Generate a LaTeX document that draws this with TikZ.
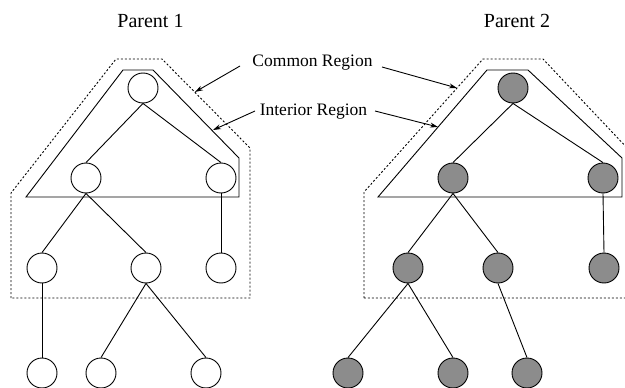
\documentclass[tikz,border=0pt]{standalone}
\usepackage{fontspec}
\setmainfont{Liberation Serif}
\usetikzlibrary{arrows.meta}
\definecolor{nodegray}{RGB}{140,140,140}
\begin{document}
\begin{tikzpicture}[x=1pt,y=-1pt, line width=0.9pt,
  wnode/.style={circle,draw,minimum size=30pt,inner sep=0pt,fill=white},
  gnode/.style={wnode,fill=nodegray},
  interior/.style={draw},
  common/.style={draw,dash pattern=on 2pt off 2pt},
  lbl/.style={font=\fontsize{17.5}{20}\selectfont, inner sep=0pt, anchor=base},
  ttl/.style={font=\fontsize{20}{24}\selectfont, inner sep=0pt, anchor=base},
  pointer/.style={-{Stealth[length=8pt,width=5pt]}}]
\useasboundingbox (0,0) rectangle (625,388);
\clip (0,0) rectangle (625,388);
% titles
\node[ttl] (p1) at (150.5,27.5) {Parent 1};
\node[ttl] (p2) at (517,27.5) {Parent 2};
\node[lbl] (crl) at (312.5,66) {Common Region};
\node[lbl] (irl) at (313.5,115) {Interior Region};
% regions, left
\draw[common] (11,298) -- (11,193) -- (116,59) -- (162,59) -- (250,148) -- (250,298) -- cycle;
\draw[interior] (26,197) -- (123,70) -- (153,70) -- (239,158) -- (239,197) -- cycle;
% regions, right
\draw[common] (364,298) -- (364,192) -- (483,59) -- (543,59) -- (700,225) -- (700,298) -- cycle;
\draw[interior] (378,197) -- (487,70) -- (528,70) -- (622,158) -- (622,197) -- cycle;
% left tree
\node[wnode] (a0) at (143,88) {};
\node[wnode] (a1) at (86,178) {};
\node[wnode] (a2) at (221,178) {};
\node[wnode] (a3) at (42,268) {};
\node[wnode] (a4) at (146,268) {};
\node[wnode] (a5) at (221,268) {};
\node[wnode] (a6) at (42,373) {};
\node[wnode] (a7) at (101,373) {};
\node[wnode] (a8) at (206,373) {};
\foreach \u/\v in {a0/a1,a0/a2,a1/a3,a1/a4,a2/a5,a3/a6,a4/a7,a4/a8}
  \draw (\u.south) -- (\v.north);
% right tree
\node[gnode] (b0) at (513,88) {};
\node[gnode] (b1) at (453,178) {};
\node[gnode] (b2) at (603,178) {};
\node[gnode] (b3) at (408,268) {};
\node[gnode] (b4) at (498,268) {};
\node[gnode] (b5) at (604,268) {};
\node[gnode] (b6) at (348,373) {};
\node[gnode] (b7) at (453,373) {};
\node[gnode] (b8) at (527,373) {};
\foreach \u/\v in {b0/b1,b0/b2,b1/b3,b1/b4,b2/b5,b3/b6,b3/b7,b4/b8}
  \draw (\u.south) -- (\v.north);
% pointers
\coordinate (c1s) at (240,66);  \coordinate (c1e) at (195,92);
\coordinate (i1s) at (255,111); \coordinate (i1e) at (213,130);
\coordinate (c2s) at (382,67);  \coordinate (c2e) at (457,88);
\coordinate (i2s) at (375,111); \coordinate (i2e) at (438,127);
\draw[pointer] (c1s) -- (c1e);
\draw[pointer] (i1s) -- (i1e);
\draw[pointer] (c2s) -- (c2e);
\draw[pointer] (i2s) -- (i2e);
\end{tikzpicture}
\end{document}
